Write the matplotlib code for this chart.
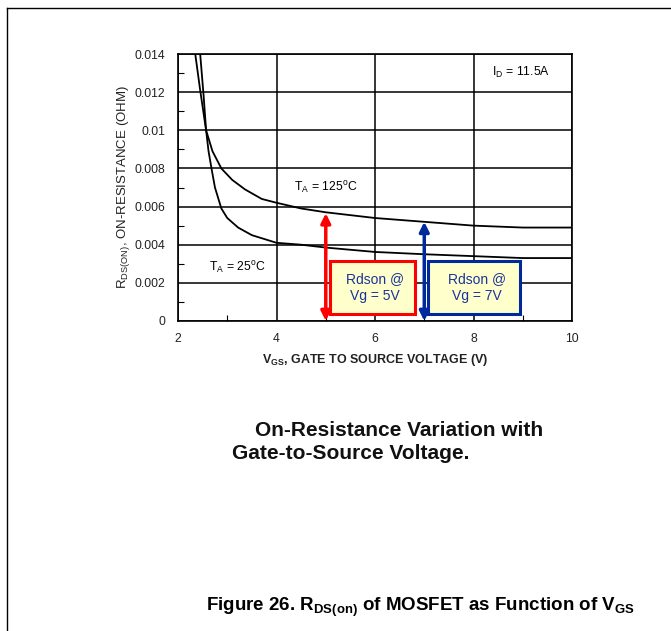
import numpy as np
import matplotlib
matplotlib.use("Agg")
import matplotlib.pyplot as plt
from matplotlib.lines import Line2D
from matplotlib.patches import Rectangle

plt.rcParams['font.family'] = ['Liberation Sans', 'DejaVu Sans']
plt.rcParams['mathtext.fontset'] = 'custom'
plt.rcParams['mathtext.rm'] = 'Liberation Sans'
plt.rcParams['mathtext.it'] = 'Liberation Sans'
plt.rcParams['mathtext.bf'] = 'Liberation Sans:bold'

# curves
vgs_125 = [2.35, 2.45, 2.57, 2.7, 2.88, 3.1, 3.36, 3.7, 4.0, 4.5, 5.0, 6.0, 7.0, 8.0, 9.0, 9.5, 10.0]
rds_125 = [0.0140, 0.0121, 0.0100, 0.0089, 0.0080, 0.0074, 0.0069, 0.0064, 0.0062,
           0.0059, 0.0057, 0.0054, 0.0052, 0.0050, 0.0049, 0.0049, 0.0049]
vgs_25 = [2.45, 2.52, 2.57, 2.62, 2.68, 2.75, 2.88, 3.0, 3.22, 3.5, 4.0, 4.5, 5.0,
          6.0, 7.0, 8.0, 9.0, 10.0]
rds_25 = [0.0140, 0.0118, 0.0100, 0.0089, 0.0080, 0.0070, 0.0059, 0.0054, 0.0049,
          0.0045, 0.0041, 0.0040, 0.00385, 0.00362, 0.0035, 0.0034, 0.0033, 0.0033]

# Rdson markers
vg_marks = [5, 7]
rds_marks = [0.00565, 0.0052]
mark_colors = ['#ff0000', '#002a9c']
mark_labels = ['Rdson @\nVg = 5V', 'Rdson @\nVg = 7V']
box_x = [(5.08, 6.81), (7.07, 8.95)]
box_y = (0.00037, 0.00316)

fig = plt.figure(figsize=(6.71, 6.31), dpi=100)
ax = fig.add_axes([0.2653, 0.4913, 0.5872, 0.4231])

ax.plot(vgs_125, rds_125, color='black', lw=1.3)
ax.plot(vgs_25, rds_25, color='black', lw=1.3)

ax.set_xlim(2, 10)
ax.set_ylim(0, 0.014)
ax.set_xticks([2, 4, 6, 8, 10])
ax.set_yticks([0, 0.002, 0.004, 0.006, 0.008, 0.01, 0.012, 0.014])
ax.set_yticklabels(['0', '0.002', '0.004', '0.006', '0.008', '0.01', '0.012', '0.014'])
ax.set_xticks([3, 5, 7, 9], minor=True)
ax.set_yticks(np.arange(0.001, 0.014, 0.002), minor=True)
ax.tick_params(which='major', length=0, pad=9, labelsize=8.8, colors='#222222')
ax.tick_params(which='minor', direction='in', length=4, width=0.8)
ax.grid(True, which='major', color='black', lw=1.1)
for s in ax.spines.values():
    s.set_linewidth(1.2)

ax.set_xlabel(r'V$_{\mathbf{GS}}$, GATE TO SOURCE VOLTAGE (V)', fontsize=9,
              fontweight='bold', labelpad=5, color='#222222')
ax.set_ylabel(r'R$_{DS(ON)}$, ON-RESISTANCE (OHM)', fontsize=9.5, labelpad=2,
              color='#222222')

ax.text(5.0, 0.0070, r'T$_A$ = 125$^o$C', fontsize=8.8, ha='center', va='center')
ax.text(3.2, 0.0028, r'T$_A$ = 25$^o$C', fontsize=8.8, ha='center', va='center')
ax.text(8.97, 0.01305, r'I$_D$ = 11.5A', fontsize=8.8, ha='center', va='center')

for v, r, c, lab, bx in zip(vg_marks, rds_marks, mark_colors, mark_labels, box_x):
    ax.annotate('', xy=(v, r), xytext=(v, 0), xycoords='data',
                arrowprops=dict(arrowstyle='<|-|>', color=c, lw=2.5,
                                mutation_scale=14, shrinkA=0, shrinkB=0))
    ax.add_patch(Rectangle((bx[0], box_y[0]), bx[1] - bx[0], box_y[1] - box_y[0],
                           facecolor='#ffffcc', edgecolor=c, lw=2.2, zorder=5))
    ax.text((bx[0] + bx[1]) / 2 + 0.06, (box_y[0] + box_y[1]) / 2, lab, color='#1a3399',
            fontsize=10, ha='center', va='center', zorder=6, linespacing=1.3)

fig.text(0.594, 0.318, 'On-Resistance Variation with', fontsize=15,
         fontweight='bold', ha='center', va='center', color='#111111')
fig.text(0.523, 0.282, 'Gate-to-Source Voltage.', fontsize=15,
         fontweight='bold', ha='center', va='center', color='#111111')
fig.text(0.626, 0.038,
         r'Figure 26. R$_{\mathbf{DS(on)}}$ of MOSFET as Function of V$_{\mathbf{GS}}$',
         fontsize=13.5, fontweight='bold', ha='center', va='center')

# page border
fig.add_artist(Line2D([7 / 671, 1], [1 - 8 / 631, 1 - 8 / 631], color='black', lw=1))
fig.add_artist(Line2D([7 / 671, 7 / 671], [0, 1 - 8 / 631], color='black', lw=1))

fig.savefig('out.png', dpi=100)
